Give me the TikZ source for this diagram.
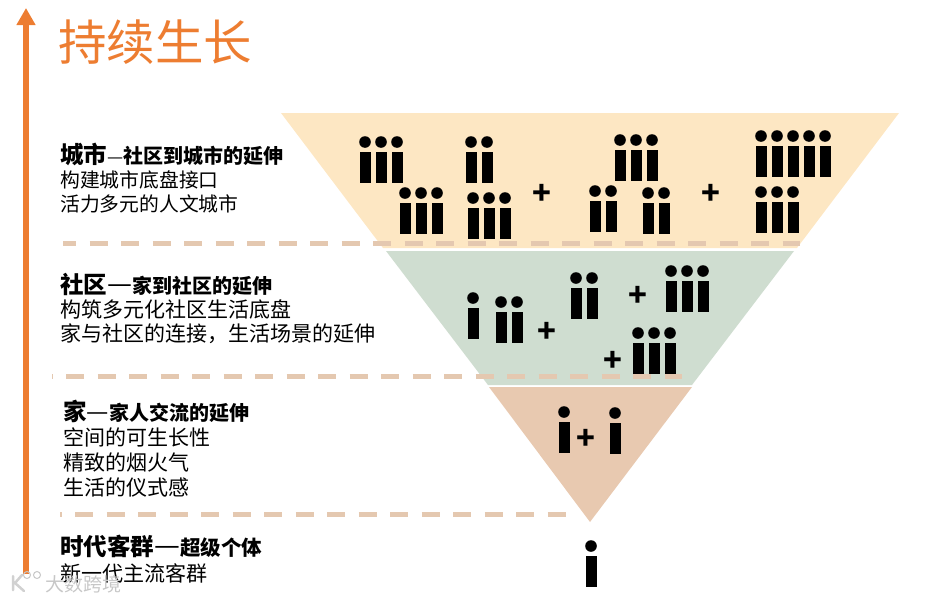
\documentclass[tikz,border=0pt]{standalone}
\usepackage{fontspec}
\setmainfont{Noto Sans CJK SC}
\usetikzlibrary{arrows.meta,positioning}

\definecolor{growth}{HTML}{ED7D31}
\definecolor{cityband}{HTML}{FDE7C3}
\definecolor{communityband}{HTML}{CFDDD0}
\definecolor{homeband}{HTML}{E8C9B0}
\definecolor{divider}{HTML}{E4C8B0}

\tikzset{
  band/.style={draw=none},
  divline/.style={draw=divider, line width=5pt, dash pattern=on 18pt off 13.5pt},
  headtext/.style={anchor=north west, inner sep=0pt, align=left, text=black,
    font=\fontsize{21}{24}\selectfont},
  plussign/.style={inner sep=0pt, font=\fontsize{31}{31}\selectfont\bfseries},
  marktext/.style={anchor=west, inner sep=0pt, font=\fontsize{19}{19}\selectfont},
}

% one standing figure: x, y of its dot
\newcommand{\guest}[2]{%
  \fill (#1,#2) circle (5.8pt);
  \fill (#1-5.5,#2+9.5) rectangle (#1+5.5,#2+40.5);
}
% big words, width of the dash, small words
\newcommand{\headline}[3]{{\fontsize{23.5}{24}\selectfont\bfseries #1}{\fontsize{#2}{24}\selectfont —}{\fontsize{20}{24}\selectfont\bfseries #3}}

\begin{document}
\begin{tikzpicture}[x=1pt, y=-1pt]
  \useasboundingbox (0,0) rectangle (932,600);

  % Growth arrow
  \coordinate (arrowfoot) at (26,574);
  \coordinate (arrowtip) at (26,8);
  \draw[growth, line width=6pt, -{Triangle[length=17pt,width=18pt]}] (arrowfoot) -- (arrowtip);
  \node[anchor=west, inner sep=0pt, text=growth, font=\fontsize{48.5}{48.5}\selectfont] (title) at (58,42) {持续生长};

  % Funnel bands
  \fill[band, cityband] (281,113) -- (899,113) -- (797,248) -- (383,248) -- cycle;
  \fill[band, communityband] (386,251) -- (794,251) -- (692,385) -- (488,385) -- cycle;
  \fill[band, homeband] (489,387) -- (692,387) -- (590,522) -- cycle;

  % Dividers
  \draw[divline, dash phase=5pt] (63,243) -- (800,243);
  \draw[divline, dash phase=17.5pt] (52,376.5) -- (682,376.5);
  \draw[divline, dash phase=16.5pt] (60,514) -- (567,514);

  % City figures
  \foreach \x in {365,381,397} {\guest{\x}{142}}
  \foreach \x in {471,487} {\guest{\x}{142}}
  \foreach \x in {620,636,652} {\guest{\x}{140}}
  \foreach \x in {761,777,793,809,825} {\guest{\x}{136}}
  \foreach \x in {405,421,437} {\guest{\x}{193}}
  \foreach \x in {473,489,505} {\guest{\x}{198}}
  \foreach \x in {595,611} {\guest{\x}{191}}
  \foreach \x in {648,664} {\guest{\x}{193}}
  \foreach \x in {761,777,793} {\guest{\x}{192}}
  \node[plussign] (cityplusa) at (542,194) {+};
  \node[plussign] (cityplusb) at (711,194) {+};

  % Community figures
  \guest{473}{298}
  \foreach \x in {501,517} {\guest{\x}{302}}
  \foreach \x in {576,592} {\guest{\x}{278}}
  \foreach \x in {671,687,703} {\guest{\x}{271}}
  \foreach \x in {638,654,670} {\guest{\x}{333}}
  \node[plussign] (complusa) at (547,332) {+};
  \node[plussign] (complusb) at (638,296) {+};
  \node[plussign] (complusc) at (613,361) {+};

  % Home figures
  \guest{564}{412}
  \guest{615}{413}
  \node[plussign] (homeplus) at (586,439) {+};

  % Single figure
  \guest{591}{546}

  % Left texts
  \node[headtext] (citytext) at (60,143) {\headline{城市}{18}{社区到城市的延伸}\\\fontsize{19.8}{24}\selectfont 构建城市底盘接口\\\fontsize{19.8}{24}\selectfont 活力多元的人文城市};
  \node[headtext] (communitytext) at (60,273) {\headline{社区}{28}{家到社区的延伸}\\构筑多元化社区生活底盘\\家与社区的连接，生活场景的延伸};
  \node[headtext] (hometext) at (63,400) {\headline{家}{25}{家人交流的延伸}\\[1pt]空间的可生长性\\[1pt]精致的烟火气\\[1pt]生活的仪式感};
  \node[headtext] (eratext) at (60,535) {\headline{时代客群}{29}{\fontsize{20.5}{24}\selectfont 超级个体}\\[1.5pt]新一代主流客群};

  % Watermark
  \draw[black!18, line width=2.5pt, line cap=round] (13,576) -- (13,590) (22,575) -- (15,583) -- (24,591);
  \draw[black!22, line width=1pt] (27,575) circle (3.5pt) (37,575) circle (3.5pt);
  \node[marktext, text=black!22] (mark) at (45,584) {大数跨境};
\end{tikzpicture}
\end{document}
